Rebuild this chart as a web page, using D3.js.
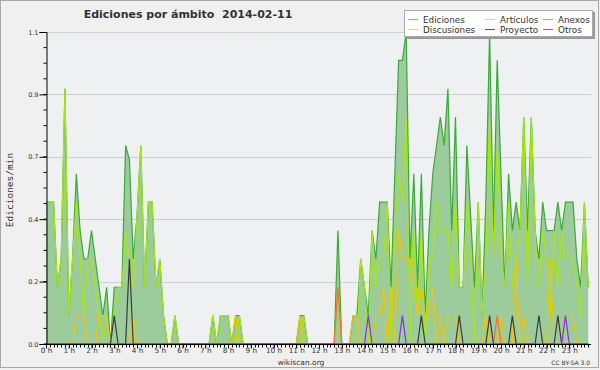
<!DOCTYPE html>
<html>
<head>
<meta charset="utf-8">
<script src="https://cdn.jsdelivr.net/npm/d3@7"></script>
<style>
  body { margin: 0; background: #f0f0f0; }
  svg { display: block; }
  text { font-family: "DejaVu Sans", sans-serif; fill: #333; }
</style>
</head>
<body>
<svg id="chart" width="600" height="370"></svg>
<script>
const title = "Ediciones por ámbito  2014-02-11";
const yAxisLabel = "Ediciones/min";
const hourLabels = d3.range(24).map(h => h + " h");
const yTickValues = [0, 0.22, 0.44, 0.66, 0.88, 1.1];
const yTickLabels = ["0.0", "0.2", "0.4", "0.7", "0.9", "1.1"];

// one value every 10 minutes, 12 values per row = 2 hours
const ediciones = [
  0.5,0.5,0.5,0.2,0.3,0.9,0.1,0.3,0.6,0.4,0.3,0.3,
  0.4,0.3,0.2,0.1,0.2,0,0.2,0.2,0.2,0.7,0.65,0.3,
  0.45,0.7,0.2,0.5,0.5,0.2,0.3,0.1,0,0,0.1,0,
  0,0,0,0,0,0,0,0,0.1,0,0.1,0.1,
  0.1,0,0.1,0.1,0,0,0,0,0,0,0,0,
  0,0,0,0,0,0,0,0.1,0.1,0,0,0,
  0,0,0,0,0,0.4,0,0,0,0.1,0.1,0.3,
  0.2,0.1,0.4,0.3,0.5,0.5,0.5,0.2,0.6,1.0,1.0,1.1,
  0.3,0.6,0.2,0.6,0.1,0.4,0.6,0.7,0.8,0.7,0.9,0.4,
  0.8,0.2,0.2,0.7,0.45,0.2,0.5,0.1,0.5,1.1,0.4,1.0,
  0.6,0.2,0.6,0.4,0.5,0.4,0.8,0.4,0.8,0.4,0.3,0.5,
  0.4,0.4,0.4,0.5,0.4,0.5,0.5,0.5,0.3,0.2,0.5,0.2
];
const articulos = [
  0.5,0.5,0.5,0.2,0.3,0.9,0.1,0.3,0.5,0.3,0.1,0.3,
  0.3,0.2,0.1,0,0.1,0,0.1,0.2,0.2,0.4,0.3,0.2,
  0.45,0.7,0.2,0.5,0.5,0.2,0.3,0.1,0,0,0.1,0,
  0,0,0,0,0,0,0,0,0.1,0,0.1,0.1,
  0.1,0,0,0.1,0,0,0,0,0,0,0,0,
  0,0,0,0,0,0,0,0,0.1,0,0,0,
  0,0,0,0,0,0.2,0,0,0,0,0,0.3,
  0.2,0,0.4,0.2,0.3,0.3,0.5,0,0.4,0.6,0.5,0.8,
  0,0.4,0.1,0.4,0,0.3,0.3,0.5,0.4,0.4,0.4,0.2,
  0.5,0.2,0.2,0.5,0.3,0,0.5,0.1,0.3,0.8,0.3,0.7,
  0.3,0.2,0.5,0.2,0.3,0.4,0.8,0.2,0.8,0.4,0.2,0.4,
  0.3,0.1,0.4,0.2,0.4,0.3,0.3,0.3,0.2,0.1,0.5,0.2
];
const discusiones = [
  0,0,0,0,0,0,0,0,0.1,0.1,0.1,0,
  0,0,0.1,0.1,0.1,0,0,0,0,0,0,0.1,
  0,0,0,0,0,0,0,0,0,0,0,0,
  0,0,0,0,0,0,0,0,0,0,0,0,
  0,0,0.1,0,0,0,0,0,0,0,0,0,
  0,0,0,0,0,0,0,0.1,0,0,0,0,
  0,0,0,0,0,0,0,0,0,0.1,0.1,0,
  0,0,0,0.1,0.1,0.2,0,0.2,0,0.4,0.3,0.3,
  0.3,0.2,0.1,0.2,0.1,0.1,0.2,0,0.1,0,0.1,0.1,
  0.1,0,0,0,0,0,0,0,0.1,0,0,0,
  0.1,0,0,0,0.3,0,0.1,0,0,0,0,0,
  0,0.3,0,0,0,0.1,0.1,0.1,0,0,0,0
];
const anexos = [
  0,0,0,0,0,0,0,0,0,0,0,0,
  0,0,0,0,0,0,0,0,0,0,0,0,
  0,0,0,0,0,0,0,0,0,0,0,0,
  0,0,0,0,0,0,0,0,0,0,0,0,
  0,0,0,0,0,0,0,0,0,0,0,0,
  0,0,0,0,0,0,0,0,0,0,0,0,
  0,0,0,0,0,0.2,0,0,0,0,0,0,
  0,0,0,0,0,0,0,0,0,0,0,0,
  0,0,0,0,0,0,0,0,0,0,0,0,
  0,0,0,0,0,0,0,0,0,0,0,0.1,
  0,0,0,0,0,0,0,0,0,0,0,0,
  0,0,0,0,0,0,0,0,0,0,0,0
];
const proyecto = [
  0,0,0,0,0,0,0,0,0,0,0,0,
  0,0,0,0,0,0,0.1,0,0,0,0.3,0,
  0,0,0,0,0,0,0,0,0,0,0,0,
  0,0,0,0,0,0,0,0,0,0,0,0,
  0,0,0,0,0,0,0,0,0,0,0,0,
  0,0,0,0,0,0,0,0,0,0,0,0,
  0,0,0,0,0,0,0,0,0,0,0,0,
  0,0,0,0,0,0,0,0,0,0,0,0,
  0,0,0,0.1,0,0,0,0,0,0,0,0,
  0,0.1,0,0,0,0,0,0,0,0.1,0,0,
  0,0,0,0.1,0,0,0,0,0,0,0.1,0,
  0,0,0,0.1,0,0,0,0,0,0,0,0
];
const otros = [
  0,0,0,0,0,0,0,0,0,0,0,0,
  0,0,0,0,0,0,0,0,0,0,0,0,
  0,0,0,0,0,0,0,0,0,0,0,0,
  0,0,0,0,0,0,0,0,0,0,0,0,
  0,0,0,0,0,0,0,0,0,0,0,0,
  0,0,0,0,0,0,0,0,0,0,0,0,
  0,0,0,0,0,0,0,0,0,0,0,0,
  0,0.1,0,0,0,0,0,0,0,0,0.1,0,
  0,0,0,0,0,0,0,0,0,0,0,0,
  0,0,0,0,0,0,0,0,0,0,0,0,
  0,0,0,0,0,0,0,0,0,0,0,0,
  0,0,0,0,0,0.1,0,0,0,0,0,0
];

const seriesNames = ["Ediciones", "Artículos", "Anexos", "Discusiones", "Proyecto", "Otros"];
const seriesColors = ["#3aaa3a", "#a8e614", "#ff6a30", "#f5c400", "#3c3c3c", "#8a2cf0"];
const legendColors = ["#6ccc6c", "#c4ee3a", "#ff8a50", "#ffd23a", "#555555", "#9a4cf8"];

const svg = d3.select("#chart");

// frame
svg.append("rect").attr("x", 0.5).attr("y", 0.5).attr("width", 598).attr("height", 367)
  .attr("fill", "#f0f0f0").attr("stroke", "#a8a8a8");

const x = d3.scaleLinear().domain([0, 24]).range([46, 592]);
const y = d3.scaleLinear().domain([0, 1.1]).range([344, 32]);

svg.append("rect").attr("x", 46).attr("y", 32).attr("width", 546).attr("height", 312)
  .attr("fill", "#eef0f2");

// grid
svg.append("g").selectAll("line").data(yTickValues.slice(1)).join("line")
  .attr("x1", 46).attr("x2", 591)
  .attr("y1", d => Math.round(y(d)) + 0.5).attr("y2", d => Math.round(y(d)) + 0.5)
  .attr("stroke", "#cfcfcf");

const t = (d, i) => i / 6;

const area = d3.area().x((d, i) => x(t(d, i))).y0(y(0)).y1(d => y(d));
svg.append("path").datum(ediciones).attr("d", area)
  .attr("fill", "#9ccb9c");

const line = d3.line().x((d, i) => x(t(d, i))).y(d => y(d));
const drawOrder = [
  [ediciones, seriesColors[0]],
  [articulos, seriesColors[1]],
  [discusiones, seriesColors[3]],
  [anexos, seriesColors[2]],
  [proyecto, seriesColors[4]],
  [otros, seriesColors[5]]
];
svg.append("g").selectAll("path").data(drawOrder).join("path")
  .attr("d", d => line(d[0]))
  .attr("fill", "none")
  .attr("stroke", d => d[1])
  .attr("stroke-width", 1.2)
  .attr("stroke-linejoin", "miter");

// y axis
const yAxis = d3.axisLeft(y).tickValues(yTickValues)
  .tickFormat((d, i) => yTickLabels[i]).tickSize(7).tickPadding(1);
const yAxisG = svg.append("g").attr("transform", "translate(46.5,0)").call(yAxis);
yAxisG.select(".domain").attr("stroke", "#000");
yAxisG.selectAll(".tick line").attr("stroke", "#000");
yAxisG.selectAll("text").style("font-size", "6.5px").attr("fill", "#444");
yAxisG.append("g").selectAll("line").data(d3.range(0, 1.1, 0.055)).join("line")
  .attr("x1", -3).attr("x2", 0)
  .attr("y1", d => y(d)).attr("y2", d => y(d))
  .attr("stroke", "#000");

// x axis
const xAxis = d3.axisBottom(x).tickValues(d3.range(24))
  .tickFormat((d, i) => hourLabels[i]).tickSize(4).tickPadding(-1);
const xAxisG = svg.append("g").attr("transform", "translate(0,344.5)").call(xAxis);
xAxisG.select(".domain").attr("stroke", "#000").attr("d", "M46,0H591");
xAxisG.selectAll(".tick line").attr("stroke", "#000");
xAxisG.selectAll("text").style("font-size", "7.3px").attr("fill", "#444");
xAxisG.append("g").selectAll("line").data(d3.range(0, 144)).join("line")
  .attr("x1", d => Math.round(x(d / 6)) + 0.5).attr("x2", d => Math.round(x(d / 6)) + 0.5)
  .attr("y1", 0).attr("y2", 3)
  .attr("stroke", "#000");

// texts
svg.append("text").attr("x", 188).attr("y", 18).attr("text-anchor", "middle")
  .style("font-size", "11px").style("font-weight", "bold").style("white-space", "pre")
  .attr("fill", "#111")
  .text(title);

svg.append("text").attr("transform", "translate(13,190) rotate(-90)")
  .attr("text-anchor", "middle")
  .style("font-family", "'DejaVu Sans Mono', monospace").style("font-size", "9.5px")
  .attr("fill", "#222").text(yAxisLabel);

svg.append("text").attr("x", 301).attr("y", 364.5).attr("text-anchor", "middle")
  .style("font-size", "7.5px").text("wikiscan.org");
svg.append("text").attr("x", 590).attr("y", 364.5).attr("text-anchor", "end")
  .style("font-size", "6px").text("CC BY-SA 3.0");

// legend
const legend = svg.append("g");
legend.append("rect").attr("x", 406).attr("y", 12).attr("width", 189).attr("height", 27)
  .attr("fill", "#999");
legend.append("rect").attr("x", 404.5).attr("y", 10.5).attr("width", 188).attr("height", 26)
  .attr("fill", "#fff").attr("stroke", "#aaa");
const legendPos = [
  [408, 19], [485, 19], [543, 19],
  [408, 29], [485, 29], [543, 29]
];
const legendIdx = [0, 1, 2, 3, 4, 5];
const items = legend.selectAll("g.item").data(legendIdx).join("g")
  .attr("class", "item")
  .attr("transform", d => `translate(${legendPos[d][0]},${legendPos[d][1]})`);
items.append("line").attr("x1", 0).attr("x2", 10).attr("y1", 0.5).attr("y2", 0.5)
  .attr("stroke", d => legendColors[d]);
items.append("text").attr("x", 15).attr("y", 3.5).style("font-size", "8.8px")
  .text(d => seriesNames[d]);
</script>
</body>
</html>
